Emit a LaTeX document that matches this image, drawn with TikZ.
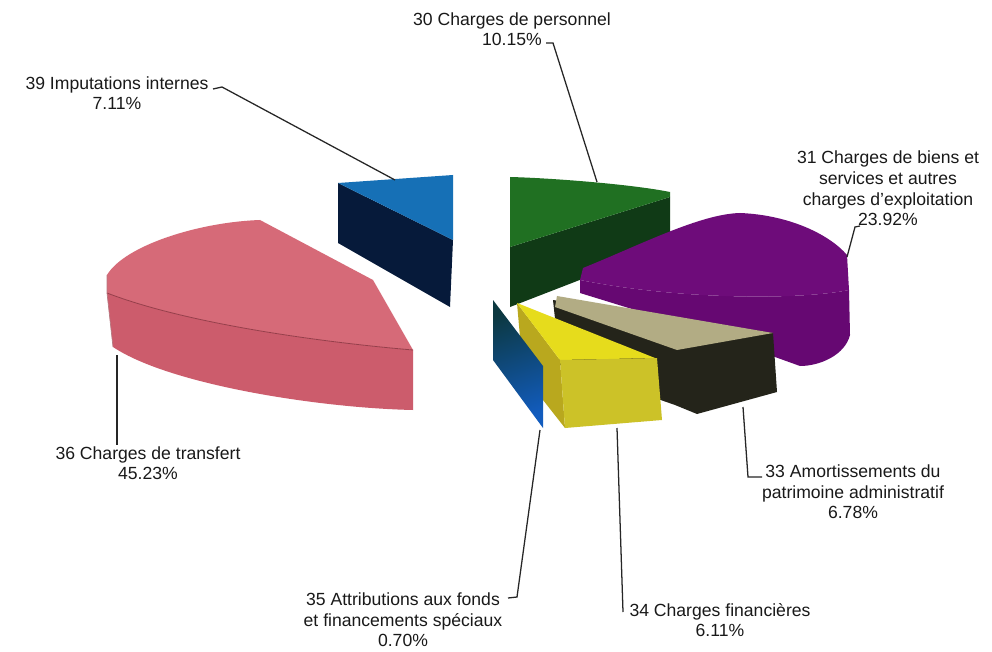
\documentclass[tikz,border=0pt]{standalone}
\usepackage{fontspec}
\setmainfont{Liberation Sans}
\definecolor{redtop}{RGB}{214,106,120}
\definecolor{redside}{RGB}{204,92,108}
\definecolor{rededge}{RGB}{150,62,74}
\definecolor{bluetop}{RGB}{22,112,182}
\definecolor{bluedark}{RGB}{6,26,58}
\definecolor{greentop}{RGB}{32,112,34}
\definecolor{greendark}{RGB}{16,58,22}
\definecolor{purpletop}{RGB}{110,12,122}
\definecolor{purpleside}{RGB}{102,8,114}
\definecolor{tantop}{RGB}{178,172,132}
\definecolor{blackside}{RGB}{36,36,26}
\definecolor{yellowtop}{RGB}{230,220,28}
\definecolor{yellowfront}{RGB}{204,194,40}
\definecolor{yellowside}{RGB}{185,168,30}
\definecolor{tealdark}{RGB}{12,56,64}
\definecolor{bluemid}{RGB}{18,92,190}
\tikzset{
  lbl/.style={align=center,inner sep=1pt,font=\fontsize{13.2}{15.4}\selectfont,text=black!90},
  leader/.style={draw=black!85,line width=0.95pt},
}
\begin{document}
\begin{tikzpicture}[x=0.75pt,y=-0.75pt]
\useasboundingbox (0,0) rectangle (992,652);
\fill[white] (0,0) rectangle (992,652);

% 36 Charges de transfert (red)
\fill[redside] (107,293) .. controls (190,325) and (330,343) .. (413,350) -- (413,410) .. controls (320,408) and (170,385) .. (113,347) -- cycle;
\fill[redtop] (107,293) -- (107,275) .. controls (125,245) and (200,222) .. (260,220) -- (373,280) -- (413,350) .. controls (330,343) and (190,325) .. (107,293) -- cycle;
\draw[rededge,line width=0.6pt] (107,293) .. controls (190,325) and (330,343) .. (413,350);
\draw[rededge!70,line width=0.5pt] (107,275) -- (107,293) -- (113,347);

% 39 Imputations internes (blue)
\fill[bluedark] (338,183) -- (453,240) -- (450,307) -- (338,243) -- cycle;
\fill[bluetop] (338,183) -- (453,175) -- (453,240) -- cycle;

% 30 Charges de personnel (green)
\fill[greendark] (510,247) -- (670,197) -- (670,245) -- (510,307) -- cycle;
\fill[greentop] (510,177) .. controls (550,178) and (630,184) .. (670,192) -- (670,197) -- (510,247) -- cycle;

% 31 Charges de biens et services (purple)
\fill[purpleside] (580,280) .. controls (680,300) and (800,300) .. (849,290) -- (850,335) .. controls (845,355) and (820,366) .. (800,366) -- (700,330) -- (580,293) -- cycle;
\fill[purpletop] (583,268) .. controls (640,245) and (700,214) .. (740,213) .. controls (790,215) and (830,235) .. (847,255) -- (849,290) .. controls (800,300) and (680,300) .. (580,280) -- cycle;

% 33 Amortissements (tan / black)
\fill[blackside] (553,300) -- (773,333) -- (777,392) -- (697,414) -- (675,405) -- (560,365) -- cycle;
\fill[tantop] (557,296) -- (773,333) -- (677,350) -- (555,307) -- cycle;

% 34 Charges financieres (yellow)
\fill[yellowside] (517,303) -- (560,360) -- (565,428) -- (543,400) -- (520,337) -- cycle;
\fill[yellowtop] (517,303) -- (655,358) -- (560,360) -- cycle;
\fill[yellowfront] (560,360) -- (657,358) -- (662,420) -- (565,428) -- cycle;

% 35 Attributions (thin blue)
\shade[top color=tealdark,bottom color=bluemid,shading angle=20] (493,300) -- (543,366) -- (543,428) -- (493,360) -- cycle;

% labels
\node[lbl] (l30) at (512,29) {30 Charges de personnel\\10.15\%};
\node[lbl] (l39) at (117,93) {39 Imputations internes\\7.11\%};
\node[lbl] (l31) at (888,188.5) {31 Charges de biens et\\services et autres\\charges d'exploitation\\23.92\%};
\node[lbl] (l36) at (148,463) {36 Charges de transfert\\45.23\%};
\node[lbl] (l35) at (403,620) {35 Attributions aux fonds\\et financements spéciaux\\0.70\%};
\node[lbl] (l34) at (720,620) {34 Charges financières\\6.11\%};
\node[lbl] (l33) at (853,492) {33 Amortissements du\\patrimoine administratif\\6.78\%};

% leader coordinates
\coordinate (s39) at (213,89);  \coordinate (k39) at (222,87);  \coordinate (e39) at (395,180);
\coordinate (s30) at (546,43);  \coordinate (k30) at (553,43);  \coordinate (e30) at (597,182);
\coordinate (s31) at (860,226); \coordinate (k31) at (855,227); \coordinate (e31) at (847,257);
\coordinate (e36) at (117,355);
\coordinate (s35) at (508,598); \coordinate (k35) at (517,597); \coordinate (e35) at (540,430);
\coordinate (e34) at (617,428); \coordinate (k34) at (623,612);
\coordinate (e33) at (743,407); \coordinate (k33) at (748,477); \coordinate (s33) at (762,477);

\draw[leader] (s39) -- (k39) -- (e39);
\draw[leader] (s30) -- (k30) -- (e30);
\draw[leader] (s31) -- (k31) -- (e31);
\draw[leader] (l36.north -| e36) -- (e36);
\draw[leader] (s35) -- (k35) -- (e35);
\draw[leader] (e34) -- (k34);
\draw[leader] (s33) -- (k33) -- (e33);
\end{tikzpicture}
\end{document}
